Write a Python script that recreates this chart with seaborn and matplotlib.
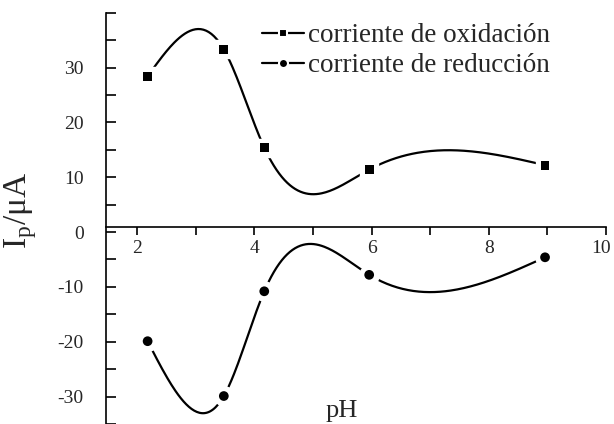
import numpy as np
import seaborn as sns
import matplotlib.pyplot as plt
from matplotlib.lines import Line2D
from matplotlib.ticker import FixedLocator
from matplotlib.transforms import ScaledTranslation

# ******************
# data
# ******************
ph = [2.18, 3.48, 4.17, 5.96, 8.96]
i_ox = [28.4, 33.3, 15.4, 11.4, 12.2]
i_red = [-19.9, -29.9, -10.8, -7.8, -4.6]

ox_label = 'corriente de oxidación'
red_label = 'corriente de reducción'


# natural cubic spline, only used to draw the smoothed line through the points
def smooth(x, y, n=300):
    x = np.asarray(x, float)
    y = np.asarray(y, float)
    k = len(x)
    h = np.diff(x)
    A = np.zeros((k, k))
    b = np.zeros(k)
    A[0, 0] = A[-1, -1] = 1
    for i in range(1, k - 1):
        A[i, i - 1] = h[i - 1]
        A[i, i] = 2 * (h[i - 1] + h[i])
        A[i, i + 1] = h[i]
        b[i] = 6 * ((y[i + 1] - y[i]) / h[i] - (y[i] - y[i - 1]) / h[i - 1])
    M = np.linalg.solve(A, b)
    xs = np.linspace(x[0], x[-1], n)
    idx = np.clip(np.searchsorted(x, xs) - 1, 0, k - 2)
    x0, x1 = x[idx], x[idx + 1]
    hh = x1 - x0
    ys = (M[idx] * (x1 - xs) ** 3 / (6 * hh) + M[idx + 1] * (xs - x0) ** 3 / (6 * hh)
          + (y[idx] / hh - M[idx] * hh / 6) * (x1 - xs)
          + (y[idx + 1] / hh - M[idx + 1] * hh / 6) * (xs - x0))
    return xs, ys


# ******************
# plot
# ******************
sns.set_theme(style='ticks')
plt.rcParams['font.family'] = ['Liberation Serif', 'DejaVu Serif']
plt.rcParams['axes.unicode_minus'] = False

fig = plt.figure(figsize=(6.14, 4.24), dpi=100)
ax = fig.add_axes([106 / 614, 0, 500 / 614, (424 - 12.7) / 424])

for yv, mk, ms in [(i_ox, 's', 6.4), (i_red, 'o', 7.0)]:
    xs, ys = smooth(ph, yv)
    sns.lineplot(x=xs, y=ys, ax=ax, color='black', lw=1.6, sort=False,
                 estimator=None, zorder=2)
    # white halo leaves the small gap around each marker
    ax.plot(ph, yv, ls='none', marker=mk, ms=ms + 7, mfc='white', mec='white', zorder=3)
    sns.scatterplot(x=ph, y=yv, ax=ax, marker=mk, s=ms ** 2, color='black',
                    edgecolor='none', zorder=4)

ax.set_xlim(1.47, 10)
ax.set_ylim(-35, 40)

ax.spines['top'].set_visible(False)
ax.spines['right'].set_visible(False)
ax.spines['bottom'].set_position(('data', 1))
for s in ['left', 'bottom']:
    ax.spines[s].set_color('black')
    ax.spines[s].set_linewidth(1.2)

ax.xaxis.set_major_locator(FixedLocator([2, 4, 6, 8, 10]))
ax.xaxis.set_minor_locator(FixedLocator([3, 5, 7, 9]))
ax.yaxis.set_major_locator(FixedLocator([-30, -20, -10, 0, 10, 20, 30]))
ax.yaxis.set_minor_locator(FixedLocator([-35, -25, -15, -5, 5, 15, 25, 35, 40]))

ax.tick_params(axis='x', which='both', direction='out', length=6, width=1.2,
               color='black', labelsize=14, pad=4)
ax.tick_params(axis='y', which='both', direction='in', length=7, width=1.2,
               color='black', labelsize=14, pad=16)
ax.set_xlabel('')
ax.set_ylabel('')

# keep the last x label inside the figure
fig.canvas.draw()
last = ax.get_xticklabels()[-1]
last.set_transform(last.get_transform() + ScaledTranslation(-5 / 100, 0, fig.dpi_scale_trans))

fig.text(21 / 614, 1 - 210 / 424, 'I$_\\mathregular{p}$/μA', rotation=90,
         ha='center', va='center', fontsize=24)
fig.text(342 / 614, 1 - 416.7 / 424, 'pH', ha='center', va='baseline', fontsize=19)

handles = [
    Line2D([], [], color='black', lw=1.6, marker='s', ms=6, mfc='black',
           mec='white', mew=1.5),
    Line2D([], [], color='black', lw=1.6, marker='o', ms=6.5, mfc='black',
           mec='white', mew=1.5),
]
fig.legend(handles, [ox_label, red_label], loc='upper left',
           bbox_to_anchor=(262 / 614, 1 - 23 / 424), frameon=False,
           fontsize=19.5, handlelength=1.55, handletextpad=0.15,
           labelspacing=0.2, borderpad=0, borderaxespad=0)

fig.savefig('out.png', dpi=100)
